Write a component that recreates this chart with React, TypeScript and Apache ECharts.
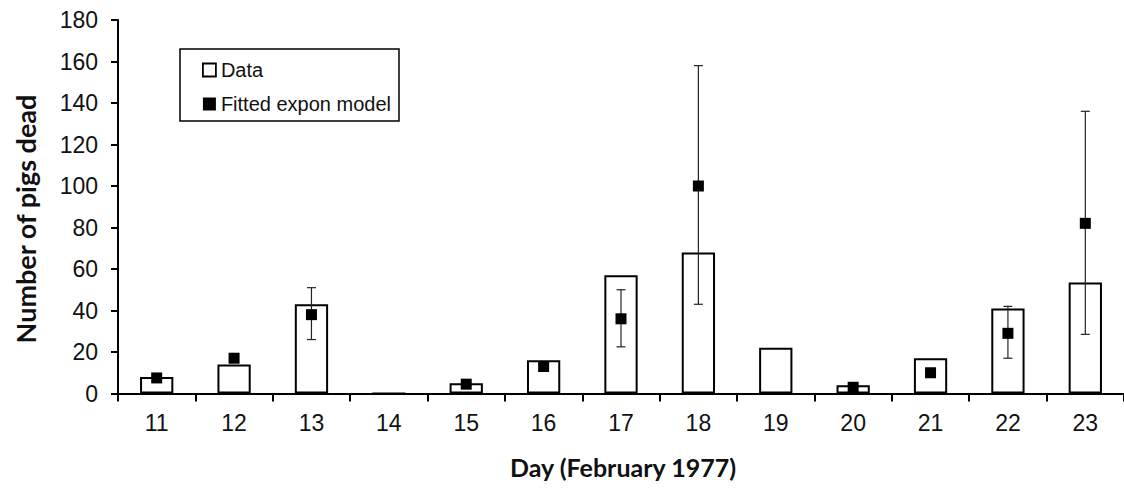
import React, { useEffect, useRef } from "react";
import * as echarts from "echarts";

const days = ["11", "12", "13", "14", "15", "16", "17", "18", "19", "20", "21", "22", "23"];
const observed = [8, 14, 43, 0, 5, 16, 57, 68, 22, 4, 17, 41, 53.5];
const fitted: (number | null)[] = [7.5, 17, 38, null, 4.5, 13, 36, 100, null, 3, 10, 29, 82];
const errLow: (number | null)[] = [null, null, 26, null, null, null, 22.5, 43, null, null, null, 17, 28.5];
const errHigh: (number | null)[] = [null, null, 51, null, null, null, 50, 158, null, null, null, 42, 136];
const yTicks = { min: 0, max: 180, interval: 20 };

export default function App() {
  const ref = useRef<HTMLDivElement>(null);
  useEffect(() => {
    if (!ref.current) return;
    const chart = echarts.init(ref.current, null, { renderer: "svg" });
    const errData: any[] = [];
    days.forEach((d, i) => {
      if (errLow[i] != null && errHigh[i] != null) errData.push([i, errLow[i], errHigh[i]]);
    });
    const tickFont = { fontFamily: "Liberation Sans, Arial, sans-serif", fontSize: 23, color: "#111" };
    chart.setOption({
      animation: false,
      backgroundColor: "#fff",
      grid: { left: 118, right: 0, top: 20, bottom: 95.5, containLabel: false },
      xAxis: {
        type: "category",
        data: days,
        boundaryGap: true,
        axisLine: { lineStyle: { color: "#000", width: 2 } },
        axisTick: { show: true, length: 8, lineStyle: { color: "#000", width: 2 } },
        axisLabel: { ...tickFont, margin: 18 },
        splitLine: { show: false },
      },
      yAxis: {
        type: "value",
        min: yTicks.min,
        max: yTicks.max,
        interval: yTicks.interval,
        axisLine: { show: true, lineStyle: { color: "#000", width: 2 } },
        axisTick: { show: true, length: 7, lineStyle: { color: "#000", width: 2 } },
        axisLabel: { ...tickFont, margin: 20 },
        splitLine: { show: false },
      },
      legend: {
        orient: "vertical",
        left: 180,
        top: 49,
        padding: [11, 8, 7, 22],
        itemGap: 14,
        itemWidth: 13,
        itemHeight: 13,
        borderColor: "#000",
        borderWidth: 1.5,
        borderRadius: 0,
        backgroundColor: "#fff",
        textStyle: { fontFamily: "Liberation Sans, Arial, sans-serif", fontSize: 20, color: "#111" },
        data: [
          { name: "Data", icon: "rect", itemStyle: { color: "#fff", borderColor: "#000", borderWidth: 1.8 } },
          { name: "Fitted expon model", icon: "rect", itemStyle: { color: "#000", borderWidth: 0 } },
        ],
      },
      series: [
        {
          name: "Data",
          type: "bar",
          data: observed,
          barWidth: "43%",
          itemStyle: { color: "#fff", borderColor: "#000", borderWidth: 2 },
          z: 2,
        },
        {
          name: "errors",
          type: "custom",
          data: errData,
          encode: { x: 0, y: [1, 2] },
          z: 3,
          renderItem: (params: any, api: any) => {
            const idx = api.value(0);
            const lo = api.coord([idx, api.value(1)]);
            const hi = api.coord([idx, api.value(2)]);
            const cap = 4.5;
            const style = { stroke: "#222", lineWidth: 1.2 };
            return {
              type: "group",
              children: [
                { type: "line", shape: { x1: lo[0], y1: lo[1], x2: hi[0], y2: hi[1] }, style },
                { type: "line", shape: { x1: hi[0] - cap, y1: hi[1], x2: hi[0] + cap, y2: hi[1] }, style },
                { type: "line", shape: { x1: lo[0] - cap, y1: lo[1], x2: lo[0] + cap, y2: lo[1] }, style },
              ],
            };
          },
        },
        {
          name: "Fitted expon model",
          type: "scatter",
          data: fitted,
          symbol: "rect",
          symbolSize: 11,
          itemStyle: { color: "#000", opacity: 1 },
          z: 4,
        },
      ],
      graphic: [
        {
          type: "text",
          x: 25,
          y: 219,
          rotation: Math.PI / 2,
          style: {
            text: "Number of pigs dead",
            fontFamily: "Lato, Open Sans, sans-serif",
            fontWeight: "bold",
            fontSize: 27,
            fill: "#111",
            align: "center",
            verticalAlign: "middle",
          },
        },
        {
          type: "text",
          x: 623,
          y: 467,
          style: {
            text: "Day (February 1977)",
            fontFamily: "Lato, Open Sans, sans-serif",
            fontWeight: "bold",
            fontSize: 25,
            fill: "#111",
            align: "center",
            verticalAlign: "middle",
          },
        },
      ],
    });
    return () => chart.dispose();
  }, []);
  return <div ref={ref} style={{ position: "fixed", top: 0, left: 0, width: 1124, height: 489 }} />;
}
